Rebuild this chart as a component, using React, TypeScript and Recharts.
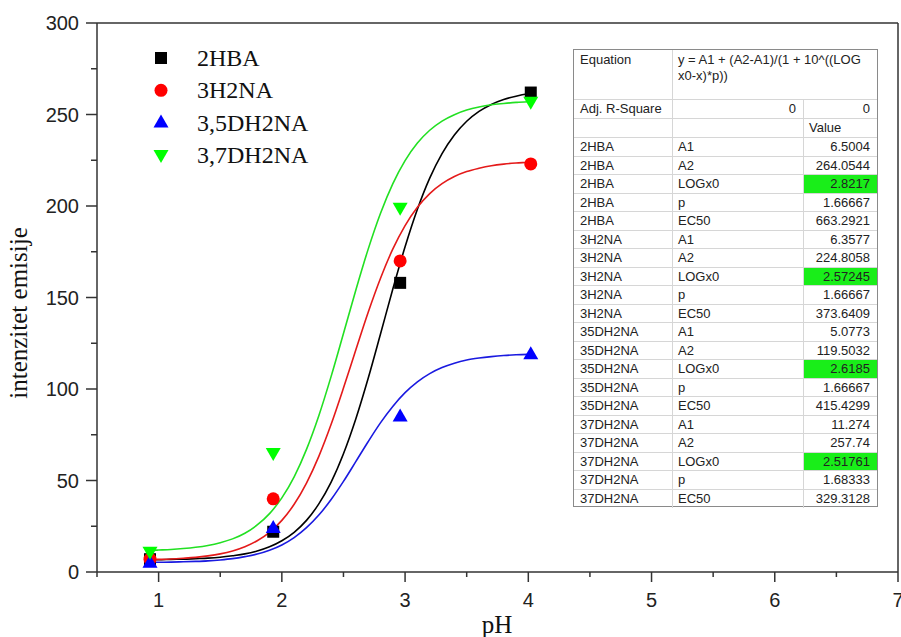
import React from 'react';
import { ComposedChart, XAxis, YAxis, Line, Scatter, ReferenceLine } from 'recharts';

// measured points
const PH = [0.93, 1.93, 2.96, 4.02];
const Y_2HBA = [7, 22, 158, 262];
const Y_3H2NA = [7, 40, 170, 223];
const Y_35DH2NA = [5, 24, 85, 119];
const Y_37DH2NA = [11, 65, 199, 257];

// fitted curves
const FIT_X = [0.93, 1.0, 1.1, 1.2, 1.3, 1.4, 1.5, 1.6, 1.7, 1.8, 1.9, 2.0, 2.1, 2.2, 2.3, 2.4, 2.5, 2.6, 2.7, 2.8, 2.9, 3.0, 3.1, 3.2, 3.3, 3.4, 3.5, 3.6, 3.7, 3.8, 3.9, 4.0, 4.02];
const FIT_2HBA = [6.7, 6.7, 6.9, 7.0, 7.3, 7.6, 8.1, 8.9, 9.9, 11.5, 13.8, 17.1, 21.7, 28.2, 37.2, 49.1, 64.6, 83.6, 105.7, 129.9, 154.5, 177.7, 198.2, 215.2, 228.6, 238.8, 246.3, 251.7, 255.5, 258.2, 260.0, 261.3, 261.5];
const FIT_3H2NA = [6.8, 6.9, 7.1, 7.5, 8.0, 8.8, 9.9, 11.5, 13.8, 17.1, 21.7, 28.2, 37.0, 48.6, 63.2, 80.7, 100.5, 121.3, 141.8, 160.4, 176.4, 189.3, 199.3, 206.8, 212.2, 216.1, 218.8, 220.6, 222.0, 222.9, 223.5, 223.9, 224.0];
const FIT_35DH2NA = [5.3, 5.3, 5.4, 5.6, 5.8, 6.1, 6.6, 7.3, 8.4, 9.8, 11.9, 14.8, 18.8, 24.2, 31.1, 39.6, 49.5, 60.3, 71.2, 81.5, 90.5, 98.0, 103.9, 108.4, 111.7, 114.1, 115.8, 116.9, 117.7, 118.3, 118.7, 118.9, 119.0];
const FIT_37DH2NA = [11.8, 12.0, 12.3, 12.8, 13.5, 14.5, 16.0, 18.1, 21.2, 25.7, 31.9, 40.5, 52.0, 67.0, 85.4, 106.9, 130.3, 154.0, 176.3, 195.9, 212.1, 224.8, 234.4, 241.4, 246.4, 249.9, 252.4, 254.1, 255.3, 256.0, 256.6, 257.0, 257.0];

const X_TICKS = [0.5, 1, 1.5, 2, 2.5, 3, 3.5, 4, 4.5, 5, 5.5, 6, 6.5, 7];
const Y_TICKS = [0, 25, 50, 75, 100, 125, 150, 175, 200, 225, 250, 275, 300];
const X_MAX = 7;
const Y_MAX = 300;

const SERIES_NAMES = ['2HBA', '3H2NA', '3,5DH2NA', '3,7DH2NA'];
const SERIES_COLORS = ['#000000', '#ff0000', '#0000ff', '#00ff00'];
const CURVE_COLORS = ['#000000', '#e41a1a', '#1a1ae0', '#22e022'];

// results table
const EQUATION = ['y = A1 + (A2-A1)/(1 + 10^((LOG', 'x0-x)*p))'];
const FIT_NAMES = ['2HBA', '3H2NA', '35DH2NA', '37DH2NA'];
const PARAM_NAMES = ['A1', 'A2', 'LOGx0', 'p', 'EC50'];
const PARAM_VALUES = [
  ['6.5004', '264.0544', '2.8217', '1.66667', '663.2921'],
  ['6.3577', '224.8058', '2.57245', '1.66667', '373.6409'],
  ['5.0773', '119.5032', '2.6185', '1.66667', '415.4299'],
  ['11.274', '257.74', '2.51761', '1.68333', '329.3128'],
];

const toPoints = (xs: number[], ys: number[]) => xs.map((x, i) => ({ x, y: ys[i] }));
const POINTS = [Y_2HBA, Y_3H2NA, Y_35DH2NA, Y_37DH2NA].map((ys) => toPoints(PH, ys));
const CURVES = [FIT_2HBA, FIT_3H2NA, FIT_35DH2NA, FIT_37DH2NA].map((ys) => toPoints(FIT_X, ys));

const AXIS = '#333333';
const SANS = '"Liberation Sans", Arial, sans-serif';
const SERIF = '"Liberation Serif", "Times New Roman", serif';

const Marker = ({ kind, cx, cy, color }: { kind: number; cx: number; cy: number; color: string }) => {
  if (kind === 0) return <rect x={cx - 6} y={cy - 6} width={12} height={12} fill={color} />;
  if (kind === 1) return <circle cx={cx} cy={cy} r={6.5} fill={color} />;
  if (kind === 2)
    return <polygon points={`${cx - 7.5},${cy + 5} ${cx + 7.5},${cy + 5} ${cx},${cy - 8}`} fill={color} />;
  return <polygon points={`${cx - 7.5},${cy - 5} ${cx + 7.5},${cy - 5} ${cx},${cy + 8}`} fill={color} />;
};

const XTick = (props: any) => {
  const { x, y, payload } = props;
  const v = payload.value;
  const major = Number.isInteger(v);
  return (
    <g>
      <line x1={x} x2={x} y1={y} y2={y + (major ? 10 : 5)} stroke={AXIS} strokeWidth={1.5} />
      {major && (
        <text x={x} y={y + 35} textAnchor="middle" fontFamily={SANS} fontSize={20} fill="#222">
          {v}
        </text>
      )}
    </g>
  );
};

const YTick = (props: any) => {
  const { x, y, payload } = props;
  const v = payload.value;
  const major = v % 50 === 0;
  return (
    <g>
      <line x1={x} x2={x - (major ? 11 : 6)} y1={y} y2={y} stroke={AXIS} strokeWidth={1.5} />
      {major && (
        <text x={x - 18} y={y} dy="0.35em" textAnchor="end" fontFamily={SANS} fontSize={20} fill="#222">
          {v}
        </text>
      )}
    </g>
  );
};

const COL_W = [99, 131, 75];
const ROW_H = 18.5;
const cellText: React.CSSProperties = {
  fontFamily: SANS,
  fontSize: 13,
  color: '#222',
  whiteSpace: 'nowrap',
};

const ResultTable = () => {
  const rows: { a: string; b: string; c: string; hi: boolean }[] = [];
  FIT_NAMES.forEach((n, si) =>
    PARAM_NAMES.forEach((p, pi) => rows.push({ a: n, b: p, c: PARAM_VALUES[si][pi], hi: p === 'LOGx0' }))
  );
  const border = '1px solid #d6d6d6';
  return (
    <div
      style={{
        position: 'absolute',
        left: 573,
        top: 49,
        width: 305,
        height: 458,
        boxSizing: 'border-box',
        border: '1px solid #8a8a8a',
        background: '#fff',
      }}
    >
      <div style={{ display: 'flex', height: 50, borderBottom: border, boxSizing: 'border-box' }}>
        <div style={{ ...cellText, width: COL_W[0], borderRight: border, padding: '2px 0 0 6px', lineHeight: '16px', boxSizing: 'border-box' }}>
          Equation
        </div>
        <div style={{ ...cellText, flex: 1, padding: '2px 0 0 5px', lineHeight: '16px' }}>
          {EQUATION.map((l, i) => (
            <div key={i}>{l}</div>
          ))}
        </div>
      </div>
      <div style={{ display: 'flex', height: 19, borderBottom: border, boxSizing: 'border-box' }}>
        <div style={{ ...cellText, width: COL_W[0], borderRight: border, paddingLeft: 6, lineHeight: '18px', boxSizing: 'border-box' }}>
          Adj. R-Square
        </div>
        <div style={{ ...cellText, width: COL_W[1], borderRight: border, paddingRight: 7, textAlign: 'right', lineHeight: '18px', boxSizing: 'border-box' }}>
          0
        </div>
        <div style={{ ...cellText, flex: 1, paddingRight: 7, textAlign: 'right', lineHeight: '18px' }}>0</div>
      </div>
      <div style={{ display: 'flex', height: 19, borderBottom: border, boxSizing: 'border-box' }}>
        <div style={{ width: COL_W[0], borderRight: border, boxSizing: 'border-box' }} />
        <div style={{ width: COL_W[1], borderRight: border, boxSizing: 'border-box' }} />
        <div style={{ ...cellText, flex: 1, paddingLeft: 5, lineHeight: '18px' }}>Value</div>
      </div>
      {rows.map((r, i) => (
        <div
          key={i}
          style={{
            display: 'flex',
            height: ROW_H,
            borderBottom: i === rows.length - 1 ? 'none' : border,
            boxSizing: 'border-box',
          }}
        >
          <div style={{ ...cellText, width: COL_W[0], borderRight: border, paddingLeft: 6, lineHeight: '17px', boxSizing: 'border-box' }}>
            {r.a}
          </div>
          <div style={{ ...cellText, width: COL_W[1], borderRight: border, paddingLeft: 5, lineHeight: '17px', boxSizing: 'border-box' }}>
            {r.b}
          </div>
          <div
            style={{
              ...cellText,
              flex: 1,
              paddingRight: 7,
              textAlign: 'right',
              lineHeight: '17px',
              background: r.hi ? '#19ee19' : 'transparent',
            }}
          >
            {r.c}
          </div>
        </div>
      ))}
    </div>
  );
};

export default function App() {
  return (
    <div style={{ position: 'absolute', left: 0, top: 0, width: 901, height: 637, background: '#fff', overflow: 'hidden' }}>
      <ComposedChart width={901} height={637} margin={{ top: 23, right: 3, left: 0, bottom: 0 }}>
        <XAxis
          xAxisId="b"
          type="number"
          dataKey="x"
          domain={[0.5, X_MAX]}
          ticks={X_TICKS}
          tick={(p: any) => <XTick {...p} />}
          tickLine={false}
          tickSize={0}
          tickMargin={0}
          height={65}
          stroke={AXIS}
          strokeWidth={1.5}
          allowDataOverflow
          interval={0}
        />
        <YAxis
          yAxisId="l"
          type="number"
          domain={[0, Y_MAX]}
          ticks={Y_TICKS}
          tick={(p: any) => <YTick {...p} />}
          tickLine={false}
          tickSize={0}
          tickMargin={0}
          width={97}
          stroke={AXIS}
          strokeWidth={1.5}
          allowDataOverflow
          interval={0}
        />
        <ReferenceLine xAxisId="b" yAxisId="l" y={Y_MAX} stroke={AXIS} strokeWidth={1.5} ifOverflow="visible" />
        <ReferenceLine xAxisId="b" yAxisId="l" x={X_MAX} stroke={AXIS} strokeWidth={1.5} ifOverflow="visible" />
        {CURVES.map((c, i) => (
          <Line
            key={'c' + i}
            xAxisId="b"
            yAxisId="l"
            data={c}
            dataKey="y"
            type="monotone"
            dot={false}
            activeDot={false}
            stroke={CURVE_COLORS[i]}
            strokeWidth={1.6}
            isAnimationActive={false}
            name={SERIES_NAMES[i] + ' fit'}
          />
        ))}
        {POINTS.map((pts, i) => (
          <Scatter
            key={'s' + i}
            xAxisId="b"
            yAxisId="l"
            data={pts}
            dataKey="y"
            name={SERIES_NAMES[i]}
            isAnimationActive={false}
            shape={(p: any) => <Marker kind={i} cx={p.cx} cy={p.cy} color={SERIES_COLORS[i]} />}
          />
        ))}
      </ComposedChart>

      <svg width={901} height={637} style={{ position: 'absolute', left: 0, top: 0, pointerEvents: 'none' }}>
        {SERIES_NAMES.map((n, i) => (
          <g key={n}>
            <Marker kind={i} cx={161} cy={58 + i * 32.3} color={SERIES_COLORS[i]} />
            <text x={197} y={66 + i * 32.3} fontFamily={SERIF} fontSize={24} fill="#111">
              {n}
            </text>
          </g>
        ))}
        <text x={497} y={633} textAnchor="middle" fontFamily={SERIF} fontSize={25} fill="#111">
          pH
        </text>
        <text
          x={27}
          y={313}
          textAnchor="middle"
          fontFamily={SERIF}
          fontSize={25}
          fill="#111"
          transform="rotate(-90 27 313)"
        >
          intenzitet emisije
        </text>
      </svg>
      <ResultTable />
    </div>
  );
}
